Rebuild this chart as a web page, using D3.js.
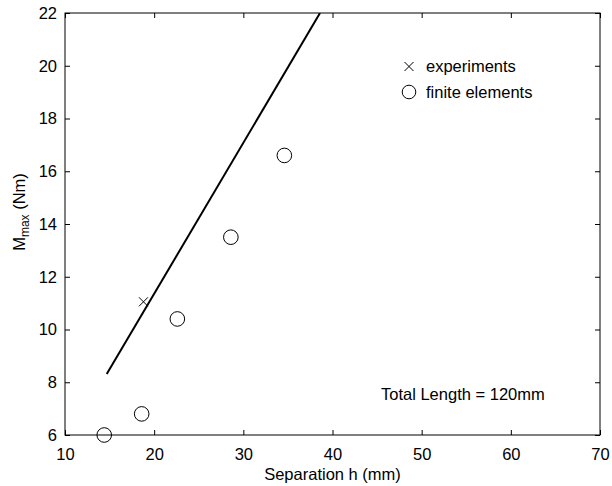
<!DOCTYPE html>
<html>
<head>
<meta charset="utf-8">
<script src="https://cdn.jsdelivr.net/npm/d3@7"></script>
<style>
  body { margin: 0; background: #fff; }
  text { font-family: "Liberation Sans", Arial, sans-serif; fill: #000; }
</style>
</head>
<body>
<script>
// data
var xTicks = [10, 20, 30, 40, 50, 60, 70];
var yTicks = [6, 8, 10, 12, 14, 16, 18, 20, 22];

var expX = [18.8];
var expY = [11.05];

var feX = [14.4, 18.6, 22.6, 28.6, 34.6];
var feY = [6.0, 6.8, 10.4, 13.5, 16.6];

var fitX = [14.68, 38.6];
var fitY = [8.31, 22.0];

var W = 612, H = 486;
// plot box edges (don't call these top/left: window.top is read only)
var pL = 65, pR = 600, pT = 13, pB = 435;
var fs = "16.5px";

var svg = d3.select("body").append("svg")
    .attr("width", W)
    .attr("height", H);

var x = d3.scaleLinear().domain([10, 70]).range([pL, pR]);
var y = d3.scaleLinear().domain([6, 22]).range([pB, pT]);

// ticks, pointing inward, on all four sides
var tl = 5;
var xAxB = d3.axisBottom(x).tickValues(xTicks).tickSize(-tl).tickPadding(13).tickFormat(d3.format("d"));
var xAxT = d3.axisTop(x).tickValues(xTicks).tickSize(-tl).tickFormat("");
var yAxL = d3.axisLeft(y).tickValues(yTicks).tickSize(-tl).tickPadding(8).tickFormat(d3.format("d"));
var yAxR = d3.axisRight(y).tickValues(yTicks).tickSize(-tl).tickFormat("");

function styleAxis(g) {
  g.select(".domain").remove();
  g.selectAll("line").attr("stroke", "#000").attr("stroke-width", 1);
  g.selectAll("text").style("font-size", fs).attr("fill", "#000");
}

svg.append("g").attr("transform", "translate(0," + pB + ")").call(xAxB).call(styleAxis);
svg.append("g").attr("transform", "translate(0," + pT + ")").call(xAxT).call(styleAxis);
svg.append("g").attr("transform", "translate(" + pL + ",0)").call(yAxL).call(styleAxis);
svg.append("g").attr("transform", "translate(" + pR + ",0)").call(yAxR).call(styleAxis);

// frame
svg.append("rect")
    .attr("x", pL).attr("y", pT)
    .attr("width", pR - pL).attr("height", pB - pT)
    .attr("fill", "none").attr("stroke", "#000").attr("stroke-width", 1);

svg.append("clipPath").attr("id", "clip")
  .append("rect")
    .attr("x", pL).attr("y", pT)
    .attr("width", pR - pL).attr("height", pB - pT);

// fitted line
var fit = fitX.map(function(v, i) { return [v, fitY[i]]; });
svg.append("path")
    .datum(fit)
    .attr("clip-path", "url(#clip)")
    .attr("fill", "none")
    .attr("stroke", "#000")
    .attr("stroke-width", 2)
    .attr("d", d3.line().x(function(d) { return x(d[0]); }).y(function(d) { return y(d[1]); }));

// markers
var r = 7.3, c = 4.5;
function cross(g, cx, cy) {
  g.append("path")
    .attr("d", "M" + (cx - c) + "," + (cy - c) + "L" + (cx + c) + "," + (cy + c) +
               "M" + (cx - c) + "," + (cy + c) + "L" + (cx + c) + "," + (cy - c))
    .attr("stroke", "#000").attr("stroke-width", 1).attr("fill", "none");
}

var feData = feX.map(function(v, i) { return [v, feY[i]]; });
svg.selectAll("circle.fe")
    .data(feData)
  .enter().append("circle")
    .attr("class", "fe")
    .attr("cx", function(d) { return x(d[0]); })
    .attr("cy", function(d) { return y(d[1]); })
    .attr("r", r)
    .attr("fill", "none")
    .attr("stroke", "#000")
    .attr("stroke-width", 1);

expX.forEach(function(v, i) { cross(svg, x(v), y(expY[i])); });

// legend
cross(svg, 409, 66.5);
svg.append("text").attr("x", 426).attr("y", 71.5).style("font-size", fs).text("experiments");
svg.append("circle").attr("cx", 409).attr("cy", 92).attr("r", 6.8)
    .attr("fill", "none").attr("stroke", "#000").attr("stroke-width", 1);
svg.append("text").attr("x", 426).attr("y", 97.5).style("font-size", fs).text("finite elements");

// note
svg.append("text").attr("x", 381).attr("y", 399.5).style("font-size", fs).text("Total Length = 120mm");

// axis titles
svg.append("text")
    .attr("x", (pL + pR) / 2).attr("y", 480)
    .attr("text-anchor", "middle")
    .style("font-size", fs)
    .text("Separation h (mm)");

var yl = svg.append("text")
    .attr("transform", "translate(25,212) rotate(-90)")
    .attr("text-anchor", "middle")
    .style("font-size", fs);
yl.append("tspan").text("M");
yl.append("tspan").attr("dy", 4).style("font-size", "12px").text("max");
yl.append("tspan").attr("dy", -4).text(" (Nm)");
</script>
</body>
</html>
